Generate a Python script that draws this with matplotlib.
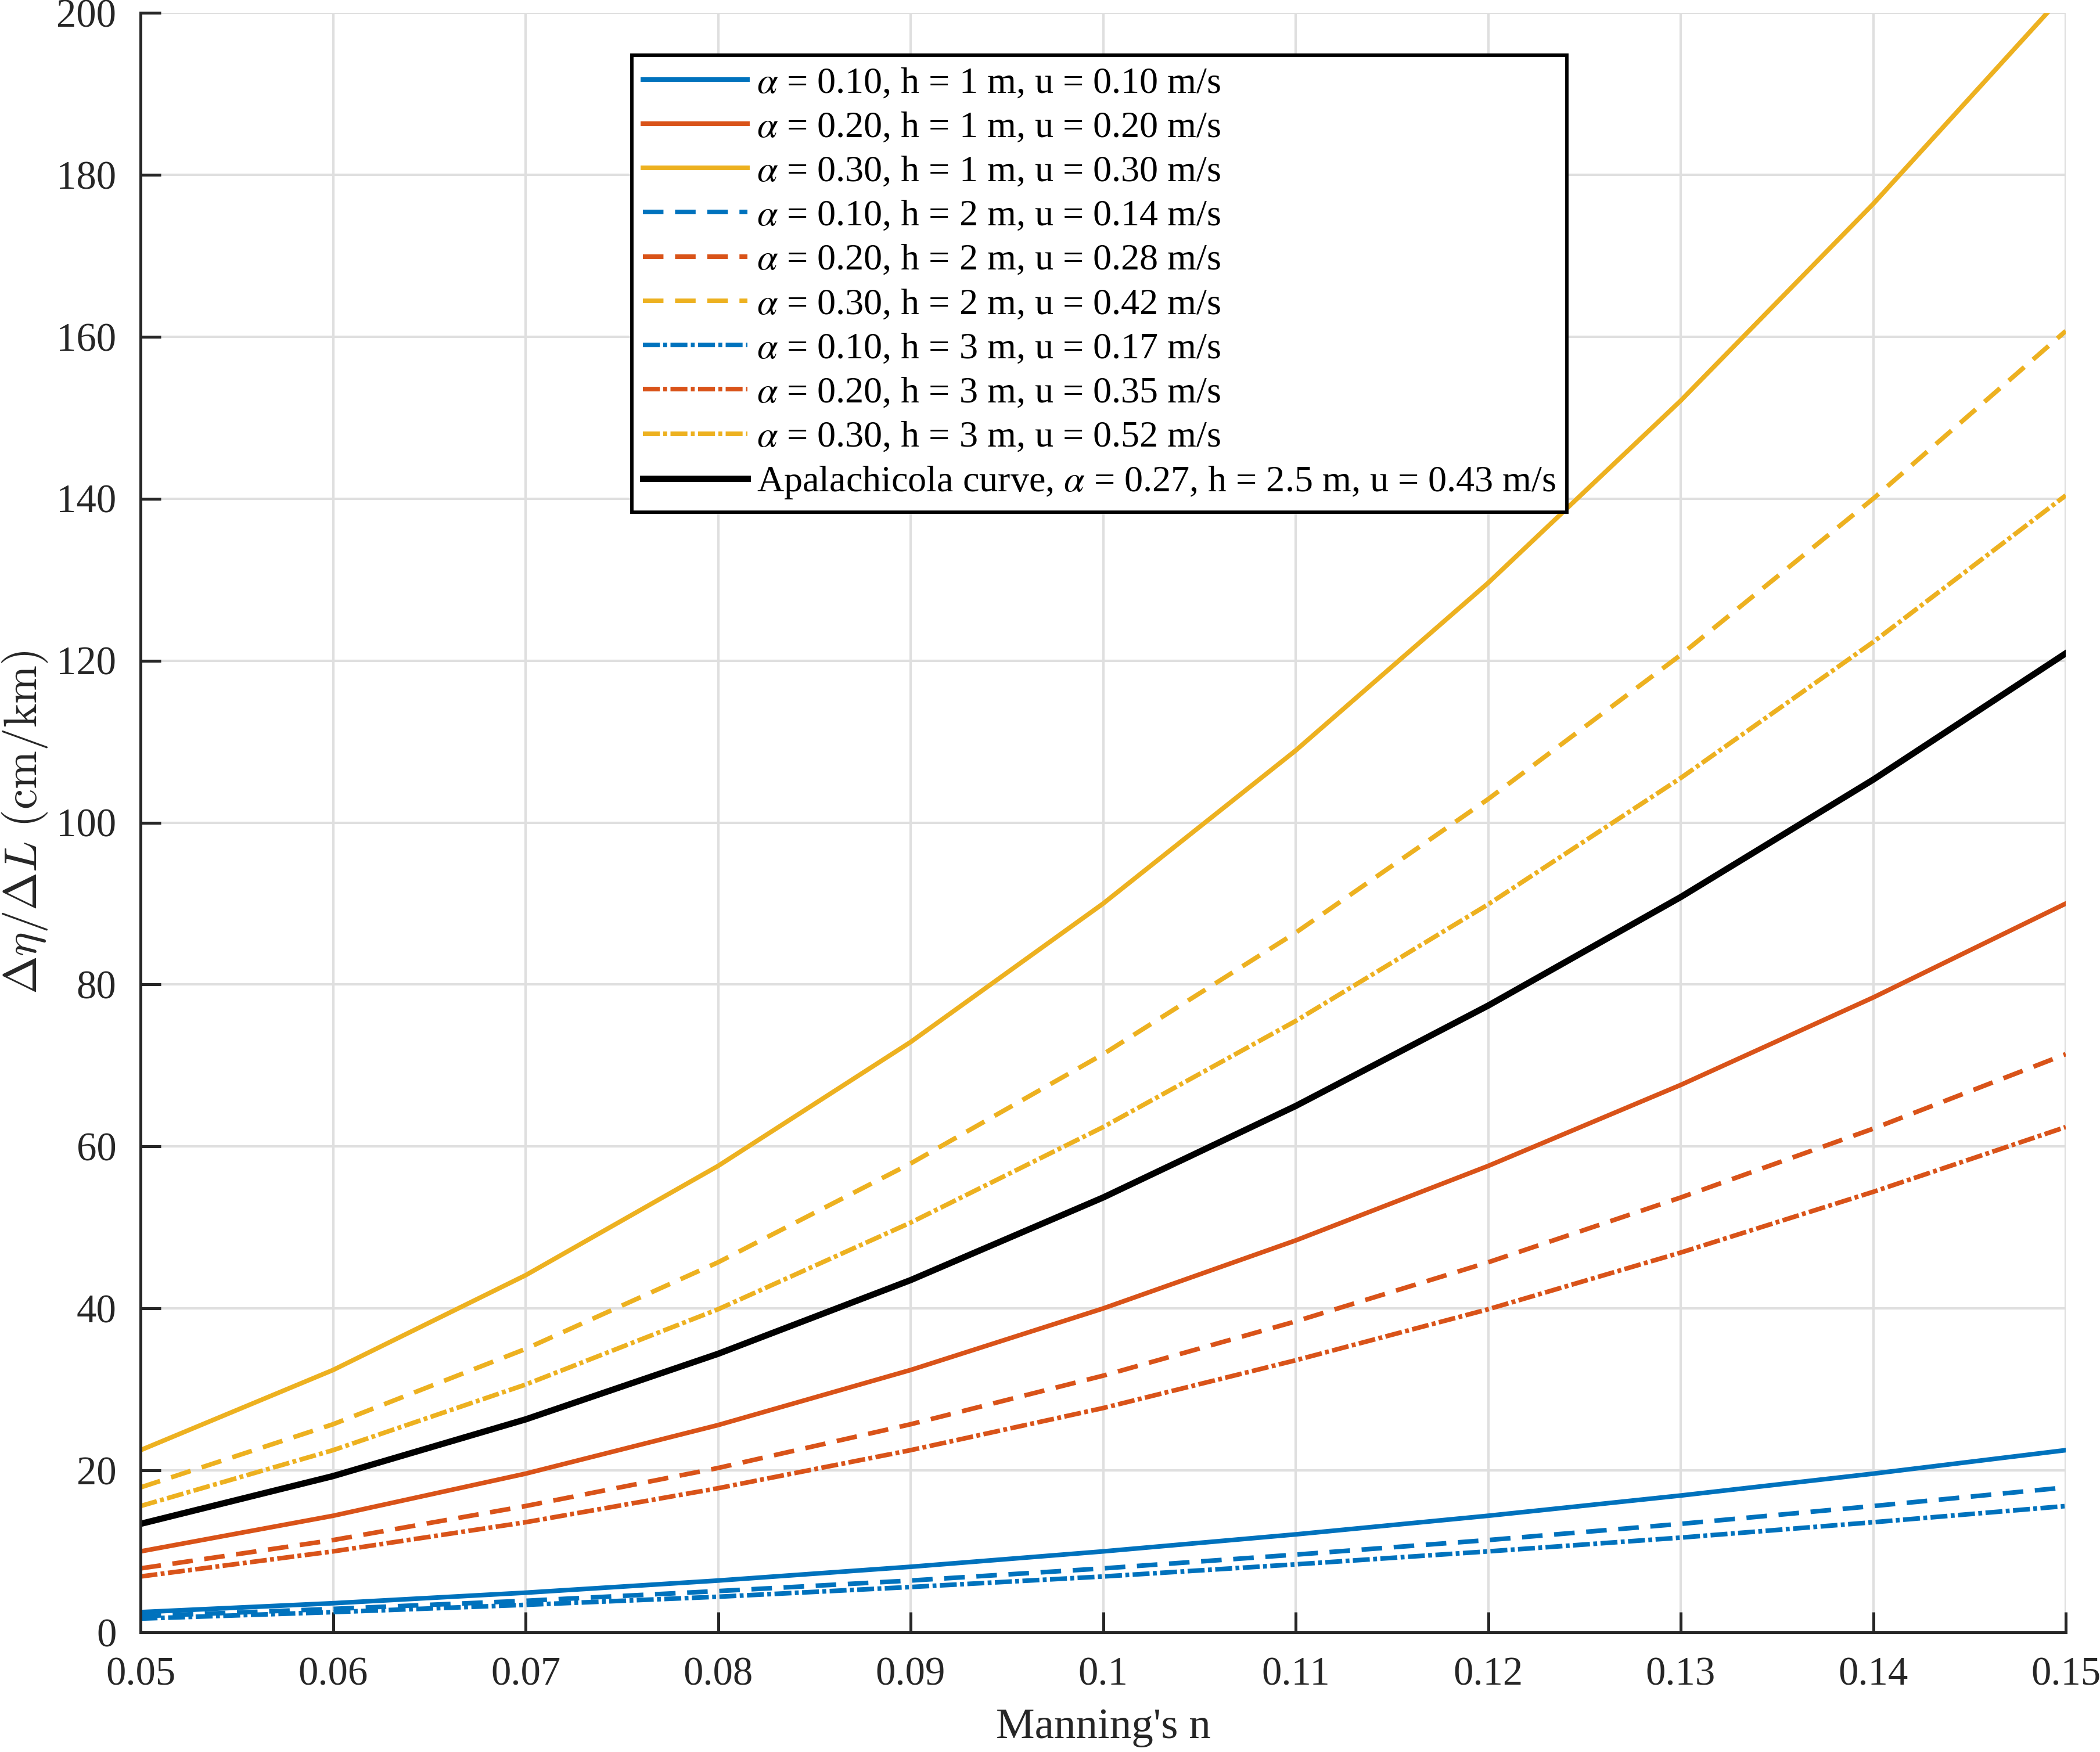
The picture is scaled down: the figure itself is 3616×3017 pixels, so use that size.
import numpy as np
import matplotlib
matplotlib.use('Agg')
import matplotlib.pyplot as plt

# Manning's n values on the x axis
manning_n = [0.05, 0.06, 0.07, 0.08, 0.09, 0.10, 0.11, 0.12, 0.13, 0.14, 0.15]

# water surface slope (cm/km)
h1_a10 = [2.5, 3.6, 4.9, 6.4, 8.1, 10.0, 12.1, 14.4, 16.9, 19.6, 22.5]
h1_a20 = [10.0, 14.4, 19.6, 25.6, 32.4, 40.0, 48.4, 57.6, 67.6, 78.4, 90.0]
h1_a30 = [22.5, 32.4, 44.1, 57.6, 72.9, 90.0, 108.9, 129.6, 152.1, 176.4, 202.5]
h2_a10 = [2.0, 2.9, 3.9, 5.1, 6.4, 7.9, 9.6, 11.4, 13.4, 15.6, 17.9]
h2_a20 = [7.9, 11.4, 15.6, 20.3, 25.7, 31.7, 38.4, 45.7, 53.7, 62.2, 71.4]
h2_a30 = [17.9, 25.7, 35.0, 45.7, 57.9, 71.4, 86.4, 102.9, 120.7, 140.0, 160.7]
h3_a10 = [1.7, 2.5, 3.4, 4.4, 5.6, 6.9, 8.4, 10.0, 11.7, 13.6, 15.6]
h3_a20 = [6.9, 10.0, 13.6, 17.8, 22.5, 27.7, 33.6, 39.9, 46.9, 54.4, 62.4]
h3_a30 = [15.6, 22.5, 30.6, 39.9, 50.6, 62.4, 75.5, 89.9, 105.5, 122.3, 140.4]
apalachicola = [13.4, 19.3, 26.3, 34.4, 43.5, 53.7, 65.0, 77.4, 90.8, 105.3, 120.9]

labels = [
    r'$\alpha$ = 0.10, h = 1 m, u = 0.10 m/s',
    r'$\alpha$ = 0.20, h = 1 m, u = 0.20 m/s',
    r'$\alpha$ = 0.30, h = 1 m, u = 0.30 m/s',
    r'$\alpha$ = 0.10, h = 2 m, u = 0.14 m/s',
    r'$\alpha$ = 0.20, h = 2 m, u = 0.28 m/s',
    r'$\alpha$ = 0.30, h = 2 m, u = 0.42 m/s',
    r'$\alpha$ = 0.10, h = 3 m, u = 0.17 m/s',
    r'$\alpha$ = 0.20, h = 3 m, u = 0.35 m/s',
    r'$\alpha$ = 0.30, h = 3 m, u = 0.52 m/s',
    r'Apalachicola curve, $\alpha$ = 0.27, h = 2.5 m, u = 0.43 m/s',
]

blue, red, yellow = '#0072BD', '#D95319', '#EDB120'

plt.rcParams['font.family'] = ['Liberation Serif', 'DejaVu Serif']
plt.rcParams['mathtext.fontset'] = 'stix'
plt.rcParams['lines.scale_dashes'] = False

dash = (8.5, 4.8)
dashdot = (7.0, 1.4, 1.6, 1.4)

fig = plt.figure(figsize=(3616 / 300, 3017 / 300), dpi=300)
ax = fig.add_axes([242 / 3616, 1 - 2811 / 3017, (3557 - 242) / 3616, (2811 - 22) / 3017])

series = [
    (h1_a10, blue, None), (h1_a20, red, None), (h1_a30, yellow, None),
    (h2_a10, blue, dash), (h2_a20, red, dash), (h2_a30, yellow, dash),
    (h3_a10, blue, dashdot), (h3_a20, red, dashdot), (h3_a30, yellow, dashdot),
]
for (vals, col, ds), lab in zip(series, labels[:9]):
    line, = ax.plot(manning_n, vals, color=col, lw=1.9, label=lab)
    if ds is not None:
        line.set_dashes(ds)
ax.plot(manning_n, apalachicola, color='black', lw=2.6, label=labels[9])

ax.set_xlim(0.05, 0.15)
ax.set_ylim(0, 200)
ax.set_xticks(manning_n)
ax.set_xticklabels(['0.05', '0.06', '0.07', '0.08', '0.09', '0.1',
                    '0.11', '0.12', '0.13', '0.14', '0.15'])
ax.set_yticks(np.arange(0, 201, 20))

ax.grid(True, color='#dfdfdf', lw=1.0)
ax.set_axisbelow(True)
for side in ['top', 'right']:
    ax.spines[side].set_visible(False)
for side in ['left', 'bottom']:
    ax.spines[side].set_color('#262626')
    ax.spines[side].set_linewidth(1.2)
ax.tick_params(direction='in', length=8.4, width=1.2, colors='#262626',
               labelsize=16.5, labelcolor='#262626', pad=10)

ax.set_xlabel("Manning's n", fontsize=18, color='#262626', labelpad=6)
ax.set_ylabel(r'$\Delta\eta/\Delta L\ \mathrm{(cm/km)}$', fontsize=19,
              color='#262626', math_fontfamily='cm', labelpad=3)

leg = ax.legend(loc='upper left', bbox_to_anchor=(1088 / 3616, 1 - 95 / 3017),
                bbox_transform=fig.transFigure, borderaxespad=0,
                fontsize=15.4, frameon=True, fancybox=False, framealpha=1,
                edgecolor='black', handlelength=2.8, handletextpad=0.25,
                labelspacing=0.27, borderpad=0.3)
leg.get_frame().set_linewidth(1.4)

fig.savefig('out.png', dpi=300)
